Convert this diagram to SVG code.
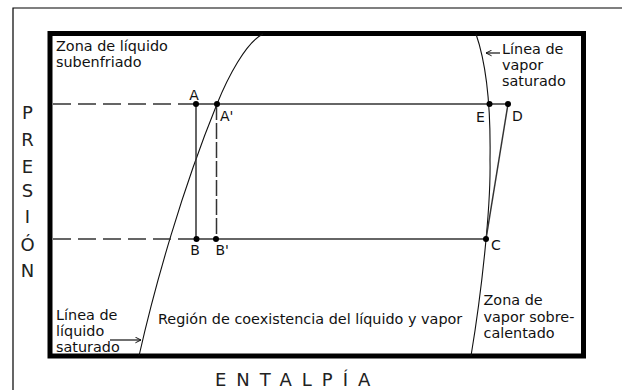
<svg xmlns="http://www.w3.org/2000/svg" width="622" height="390" viewBox="0 0 622 390">
<style>
text{font-family:"DejaVu Sans","Verdana",sans-serif;fill:#111}
.lbl{font-size:14.4px}
.pt{font-size:14px}
.ax{font-size:18px;fill:#222}
.curve{fill:none;stroke:#111;stroke-width:1.1}
.proc{fill:none;stroke:#333;stroke-width:1.5}
.dash{fill:none;stroke:#333;stroke-width:1.5;stroke-dasharray:18 7}
.dot{fill:#000}
</style>
<defs>
<marker id="chev" viewBox="0 0 10 10" refX="9" refY="5" markerWidth="7" markerHeight="7" orient="auto-start-reverse" markerUnits="userSpaceOnUse">
<path d="M1,1 L9,5 L1,9" fill="none" stroke="#111" stroke-width="1.4"/>
</marker>
</defs>
<rect x="0" y="0" width="622" height="390" fill="#fff"/>
<path d="M13,390 V8 H622" fill="none" stroke="#000" stroke-width="1.2"/>
<rect id="frame" x="50" y="33.5" width="533.5" height="322.5" fill="none" stroke="#000" stroke-width="5"/>
<g id="connectors">
<path id="liquid-line" class="curve" d="M139,356 C155,285 182,190 217,104 C227.5,78 246,42 263,34"/>
<path id="vapor-line" class="curve" d="M476,34 C485,60 491,100 490,160 C491,205 482,290 471,356"/>
<path class="dash" d="M53,104 H196"/>
<path class="dash" d="M53,239 H196"/>
<path class="proc" d="M196,104 H508"/>
<path class="proc" d="M196,239 H486"/>
<path class="proc" d="M196,104 V239"/>
<path class="proc" d="M216.5,104 V239" stroke-dasharray="16 3"/>
<path class="proc" d="M508,104 L486,239"/>
<path d="M500,53 H486" fill="none" stroke="#111" stroke-width="1.2" marker-end="url(#chev)"/>
<path d="M110,340 H141" fill="none" stroke="#111" stroke-width="1.2" marker-end="url(#chev)"/>
</g>
<g id="A"><circle class="dot" cx="196" cy="104" r="3"/><text class="pt" x="194" y="100" text-anchor="middle">A</text></g>
<g id="A-prime"><circle class="dot" cx="217" cy="104" r="3"/><text class="pt" x="220" y="121">A'</text></g>
<g id="E"><circle class="dot" cx="489.5" cy="104" r="3"/><text class="pt" x="476" y="121.5">E</text></g>
<g id="D"><circle class="dot" cx="508" cy="104" r="3"/><text class="pt" x="512" y="121">D</text></g>
<g id="B"><circle class="dot" cx="196.5" cy="239" r="3"/><text class="pt" x="195" y="255" text-anchor="middle">B</text></g>
<g id="B-prime"><circle class="dot" cx="216" cy="239" r="3"/><text class="pt" x="215.5" y="255">B'</text></g>
<g id="C"><circle class="dot" cx="486" cy="239" r="3"/><text class="pt" x="491" y="250">C</text></g>
<g id="labels">
<text class="lbl" x="56" y="51">Zona de líquido</text>
<text class="lbl" x="56" y="67">subenfriado</text>
<text class="lbl" x="502" y="54">Línea de</text>
<text class="lbl" x="502" y="70">vapor</text>
<text class="lbl" x="502" y="86">saturado</text>
<text class="lbl" x="56" y="320">Línea de</text>
<text class="lbl" x="56" y="336">líquido</text>
<text class="lbl" x="56" y="352">saturado</text>
<text class="lbl" x="158" y="324">Región de coexistencia del líquido y vapor</text>
<text class="lbl" x="483.5" y="305">Zona de</text>
<text class="lbl" x="483.5" y="321.5">vapor sobre-</text>
<text class="lbl" x="483.5" y="337.5">calentado</text>
</g>
<g id="axes">
<text class="ax" x="27.5" y="119" text-anchor="middle">P</text>
<text class="ax" x="27.5" y="146" text-anchor="middle">R</text>
<text class="ax" x="27.5" y="173" text-anchor="middle">E</text>
<text class="ax" x="27.5" y="197" text-anchor="middle">S</text>
<text class="ax" x="27.5" y="223" text-anchor="middle">I</text>
<text class="ax" x="27.5" y="251" text-anchor="middle">Ó</text>
<text class="ax" x="27.5" y="277" text-anchor="middle">N</text>
<text class="ax" x="215" y="386" letter-spacing="10">ENTALPÍA</text>
</g>
</svg>
